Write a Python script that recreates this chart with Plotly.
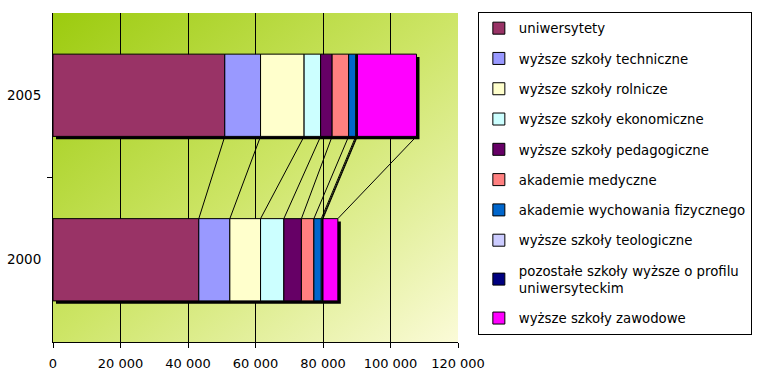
import base64
import plotly.graph_objects as go

years = ["2000", "2005"]
series_names = [
    "uniwersytety",
    "wyższe szkoły techniczne",
    "wyższe szkoły rolnicze",
    "wyższe szkoły ekonomiczne",
    "wyższe szkoły pedagogiczne",
    "akademie medyczne",
    "akademie wychowania fizycznego",
    "wyższe szkoły teologiczne",
    "pozostałe szkoły wyższe o profilu<br>uniwersyteckim",
    "wyższe szkoły zawodowe",
]
values_2000 = [43200, 9200, 9100, 6900, 5200, 3700, 2200, 300, 200, 4400]
values_2005 = [50900, 10600, 12900, 4900, 3400, 4900, 2100, 300, 200, 17500]
colors = ["#993366", "#9999FF", "#FFFFCC", "#CCFFFF", "#660066",
          "#FF8080", "#0066CC", "#CCCCFF", "#000080", "#FF00FF"]
x_ticks = [0, 20000, 40000, 60000, 80000, 100000, 120000]
x_ticktext = ["0", "20 000", "40 000", "60 000", "80 000", "100 000", "120 000"]

values = [values_2000, values_2005]
ypos = list(range(len(years)))
BAR_W = 0.5

# cumulative
cums = []
for vals in values:
    c, acc = [], 0
    for v in vals:
        acc += v
        c.append(acc)
    cums.append(c)
totals = [c[-1] for c in cums]

fig = go.Figure()

# shadow
fig.add_trace(go.Bar(
    y=ypos, x=totals, base=[890, 890], orientation="h", width=BAR_W,
    offset=-BAR_W / 2 - 0.018, marker=dict(color="black", line=dict(width=0)),
    showlegend=False, hoverinfo="skip"))

for i, name in enumerate(series_names):
    bases = [cums[k][i] - values[k][i] for k in range(len(years))]
    fig.add_trace(go.Bar(
        y=ypos, x=[values[k][i] for k in range(len(years))], base=bases,
        orientation="h", width=BAR_W, name=name, legendgroup=f"g{i}",
        marker=dict(color=colors[i], line=dict(color="black", width=1))))

# series lines
lx, ly = [], []
for i in range(len(series_names)):
    lx += [cums[0][i], cums[1][i], None]
    ly += [ypos[0] + BAR_W / 2, ypos[1] - BAR_W / 2, None]
fig.add_trace(go.Scatter(x=lx, y=ly, mode="lines",
                         line=dict(color="black", width=1),
                         showlegend=False, hoverinfo="skip"))

svg = ('<svg xmlns="http://www.w3.org/2000/svg" width="400" height="330" '
       'preserveAspectRatio="none" viewBox="0 0 400 330">'
       '<defs><linearGradient id="g" x1="0" y1="0" x2="1" y2="1">'
       '<stop offset="0" stop-color="#9ccb0e"/>'
       '<stop offset="0.5" stop-color="#cde566"/>'
       '<stop offset="1" stop-color="#fbfbd8"/>'
       '</linearGradient></defs>'
       '<rect width="400" height="330" fill="url(#g)"/></svg>')
src = "data:image/svg+xml;base64," + base64.b64encode(svg.encode()).decode()

fig.update_layout(
    width=761, height=384,
    margin=dict(l=53, r=303, t=13, b=42, autoexpand=False),
    barmode="overlay",
    paper_bgcolor="white",
    plot_bgcolor="rgba(0,0,0,0)",
    font=dict(family="DejaVu Sans", size=13, color="black"),
    images=[dict(source=src, xref="paper", yref="paper", x=0, y=1,
                 sizex=1, sizey=1, sizing="stretch", layer="below",
                 xanchor="left", yanchor="top")],
    xaxis=dict(range=[0, 120000], tickvals=x_ticks, ticktext=x_ticktext,
               showgrid=True, gridcolor="black", gridwidth=1,
               showline=True, linecolor="black", linewidth=1,
               ticks="outside", ticklen=5, tickcolor="black", zeroline=False,
               ticklabelstandoff=4),
    yaxis=dict(range=[-0.5, 1.5], tickvals=ypos, ticktext=years,
               showgrid=False, showline=True, linecolor="black", linewidth=1,
               ticks="", zeroline=False, ticklabelstandoff=8,
               tickfont=dict(size=13.5),
               minor=dict(tickvals=[0.5], ticks="outside", ticklen=5,
                          tickcolor="black")),
    legend=dict(x=1.049, y=1.003, xanchor="left", yanchor="top",
                traceorder="grouped", tracegroupgap=10, maxheight=380,
                bordercolor="black", borderwidth=1, bgcolor="white",
                font=dict(family="DejaVu Sans", size=13.3)),
    showlegend=True,
)

fig.write_html("out.html", config={"displayModeBar": False},
               post_script="document.body.style.margin='0';")
